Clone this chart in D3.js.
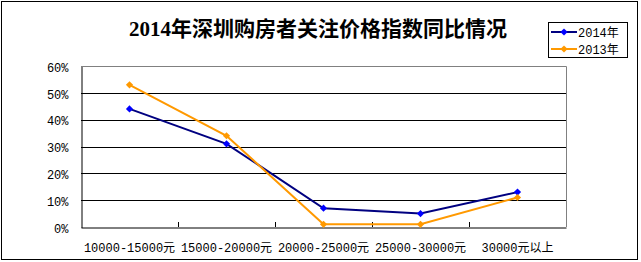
<!DOCTYPE html>
<meta charset="utf-8">
<style>
body { margin: 0; background: #fff; }
text { font-family: "Liberation Mono", "Noto Sans CJK SC", monospace; font-size: 12px; fill: #000; }
.title { font-family: "Liberation Serif", "Noto Sans CJK SC", serif; font-size: 21px; font-weight: bold; }
</style>
<svg width="641" height="262"></svg>
<script src="https://d3js.org/d3.v7.min.js"></script>
<script>

var categories = ["10000-15000元", "15000-20000元", "20000-25000元", "25000-30000元", "30000元以上"];
var values2014 = [0.44, 0.31, 0.07, 0.05, 0.13];
var values2013 = [0.53, 0.34, 0.01, 0.01, 0.11];
var yTicks = [0, 0.1, 0.2, 0.3, 0.4, 0.5, 0.6];

var series = [
  { name: "2014年", values: values2014, line: "#000080", marker: "#0000ff" },
  { name: "2013年", values: values2013, line: "#ff9900", marker: "#ff9900" }
];

var svg = d3.select("svg");

// outer frame
svg.append("rect")
    .attr("x", 1.5).attr("y", 1.5)
    .attr("width", 636).attr("height", 258)
    .attr("fill", "none").attr("stroke", "#000");

var plotL = 81, plotR = 566, plotT = 66, plotB = 227;

var x = d3.scaleBand().domain(categories).range([plotL, plotR]);
var y = d3.scaleLinear().domain([0, 0.6]).range([plotB, plotT]);

// plot frame (top/right grey)
svg.append("path")
    .attr("d", "M" + plotL + "," + (plotT + 0.5) + "H" + (plotR + 0.5) + "V" + plotB)
    .attr("fill", "none").attr("stroke", "#808080");

// gridlines
svg.append("g").selectAll("line")
  .data(yTicks.filter(function(d) { return d > 0 && d < 0.6; }))
  .enter().append("line")
    .attr("x1", plotL).attr("x2", plotR)
    .attr("y1", function(d) { return Math.round(y(d)) + 0.5; })
    .attr("y2", function(d) { return Math.round(y(d)) + 0.5; })
    .attr("stroke", "#000");

// y axis
var yAxis = svg.append("g")
    .attr("transform", "translate(" + (plotL + 0.5) + ",0.5)")
    .call(d3.axisLeft(y).tickValues(yTicks).tickFormat(d3.format(".0%")).tickSize(0).tickPadding(13));
yAxis.select(".domain").attr("stroke", "#000");
yAxis.selectAll("text").attr("font-family", null).attr("font-size", null).attr("dy", "0.4em");

// x axis
var xAxis = svg.append("g")
    .attr("transform", "translate(0," + (plotB + 0.5) + ")")
    .call(d3.axisBottom(x).tickSize(0).tickPadding(16));
xAxis.select(".domain").attr("stroke", "#000");
xAxis.selectAll("text").attr("font-family", null).attr("font-size", null);

// category separator ticks (pointing up)
svg.append("g").selectAll("line")
  .data(categories.slice(1))
  .enter().append("line")
    .attr("x1", function(d) { return Math.round(x(d)) + 0.5; })
    .attr("x2", function(d) { return Math.round(x(d)) + 0.5; })
    .attr("y1", plotB).attr("y2", plotB - 5)
    .attr("stroke", "#000");

var line = d3.line()
    .x(function(d, i) { return x(categories[i]) + x.bandwidth() / 2; })
    .y(function(d) { return y(d); });

// square diamond marker (rotated square)
var diamond = d3.symbol().type(d3.symbolSquare).size(26);

series.forEach(function(s) {
  svg.append("path")
      .datum(s.values)
      .attr("d", line)
      .attr("fill", "none")
      .attr("stroke", s.line)
      .attr("stroke-width", 2);
  svg.append("g").selectAll("path")
    .data(s.values)
    .enter().append("path")
      .attr("transform", function(d, i) {
        return "translate(" + (x(categories[i]) + x.bandwidth() / 2) + "," + y(d) + ") rotate(45)";
      })
      .attr("d", diamond)
      .attr("fill", s.marker);
});

// title
svg.append("text")
    .attr("class", "title")
    .attr("x", 318).attr("y", 36)
    .attr("text-anchor", "middle")
    .text("2014年深圳购房者关注价格指数同比情况");

// legend
var lg = svg.append("g").attr("transform", "translate(548,22)");
lg.append("rect")
    .attr("x", 0.5).attr("y", 0.5)
    .attr("width", 79).attr("height", 35)
    .attr("fill", "#fff").attr("stroke", "#000");
series.forEach(function(s, i) {
  var yy = 10 + i * 17;
  lg.append("line")
      .attr("x1", 3).attr("x2", 29)
      .attr("y1", yy).attr("y2", yy)
      .attr("stroke", s.line).attr("stroke-width", 2);
  lg.append("path")
      .attr("transform", "translate(16," + yy + ") rotate(45)")
      .attr("d", diamond)
      .attr("fill", s.marker);
  lg.append("text")
      .attr("x", 30).attr("y", yy + 4.5)
      .text(s.name);
});

</script>
